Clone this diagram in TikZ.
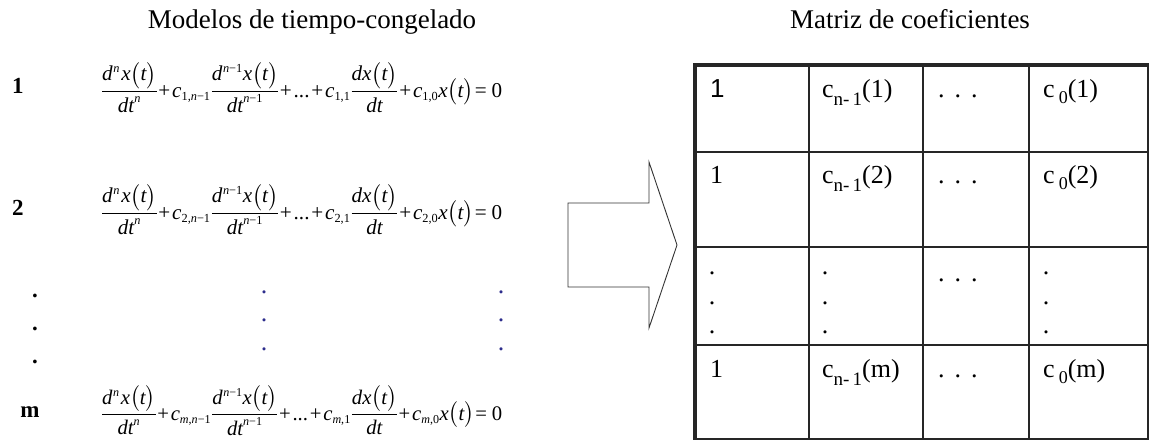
\documentclass[tikz,border=0pt]{standalone}
\usepackage{amsmath}
\usepackage{fontspec}
\setmainfont{Liberation Serif}
\newfontfamily\arialf{Liberation Sans}
\DeclareMathSizes{24}{24}{14}{10}
\definecolor{dotblue}{RGB}{45,45,140}
\newcommand\mi[1]{\mathit{#1}}
\newcommand\tp{\mathbin{\text{+}}}
\newcommand\tmn{\text{\char"2212}}
\newcommand\teq{\mathrel{\text{=}}}
\newcommand\eqrow[1]{\thinmuskip=1mu\medmuskip=1.5mu\thickmuskip=2mu\nulldelimiterspace=0pt$\dfrac{\mi{d}^{\,\mi{n}}\,\mi{x}\bigl(\mi{t}\bigr)}{\mi{dt}^{\mi{n}}}\tp\mi{c}_{#1\text{,}\mi{n}\tmn\text{1}}\,\dfrac{\mi{d}^{\,\mi{n}\tmn\text{1}}\mi{x}\bigl(\mi{t}\bigr)}{\mi{dt}^{\mi{n}\tmn\text{1}}}\tp\text{...}\tp\mi{c}_{#1\text{,1}}\,\dfrac{\mi{dx}\bigl(\mi{t}\bigr)}{\mi{dt}}\tp\mi{c}_{#1\text{,0}}\mi{x}\bigl(\mi{t}\bigr)\!\teq\;\text{0}$}
\newcommand\cnm[1]{c\raisebox{-8pt}{\fontsize{19}{20}\selectfont n-\,1}(#1)}
\newcommand\czero[1]{c\hspace{4pt}\raisebox{-6pt}{\fontsize{18}{20}\selectfont 0}(#1)}
\newcommand\hdotsrow{.\hspace{10pt}.\hspace{10pt}.}
\begin{document}
\begin{tikzpicture}[x=1pt,y=-1pt,
  big/.style={font=\fontsize{26}{30}\selectfont, inner sep=0pt},
  title/.style={font=\fontsize{27}{32}\selectfont, inner sep=0pt, anchor=base},
  cell/.style={big, anchor=base west},
  lab/.style={font=\fontsize{23}{28}\selectfont\bfseries, inner sep=0pt, anchor=base},
  eqn/.style={font=\fontsize{24}{28}\selectfont, inner sep=0pt, anchor=base west},
  vdot/.style={big, anchor=base},
  thin line/.style={line width=1.4pt, black!85},
  thick line/.style={line width=3.5pt, black!85},
  arrowline/.style={line width=0.9pt, black!80, line join=miter}]
\useasboundingbox (0,0) rectangle (1149,440);

% titles
\node[title] (tl) at (312,28) {Modelos de tiempo-congelado};
\node[title] (tr) at (910,28) {Matriz de coeficientes};

% row labels
\node[lab] (l1) at (18,93) {1};
\node[lab] (l2) at (18,215) {2};
\node[lab] (lm) at (30,417) {m};
\node[lab] (d1) at (35,297) {.};
\node[lab] (d2) at (35,330) {.};
\node[lab] (d3) at (35,363) {.};

% equations
\node[eqn] (e1) at (102,97) {\resizebox{400pt}{!}{\eqrow{\text{1}}}};
\node[eqn] (e2) at (102,219) {\resizebox{400pt}{!}{\eqrow{\text{2}}}};
\node[eqn] (em) at (102,420) {\resizebox{400pt}{!}{\eqrow{\mi{m}}}};

% blue dots
\foreach \yy/\nm in {292/a,320/b,349/c}{
  \node[big, text=dotblue, anchor=base] (bl\nm) at (264,\yy+1.5) {.};
  \node[big, text=dotblue, anchor=base] (br\nm) at (501,\yy+1.5) {.};
}

% arrow
\draw[arrowline] (568,203) -- (649,203) -- (649,162) -- (677,245) -- (649,328) -- (649,287) -- (568,287) -- cycle;

% table
\foreach \xx in {809,923,1029}{\draw[thin line] (\xx,65) -- (\xx,439);}
\foreach \yy in {152,247,345}{\draw[thin line] (695,\yy) -- (1148,\yy);}
\draw[thin line] (1148,65) -- (1148,439) -- (695,439);
\draw[thick line] (695,439.7) -- (695,65) -- (1148.7,65);

% row 1
\node[cell, font=\fontsize{26}{30}\arialf] (c11) at (710,97) {1};
\node[cell] (c12) at (822,97) {\cnm{1}};
\node[cell] (c13) at (938,97) {\hdotsrow};
\node[cell] (c14) at (1043,97) {\czero{1}};
% row 2
\node[cell] (c21) at (710,183) {1};
\node[cell] (c22) at (822,183) {\cnm{2}};
\node[cell] (c23) at (938,183) {\hdotsrow};
\node[cell] (c24) at (1043,183) {\czero{2}};
% row 3
\foreach \xx/\cc in {712/a,825/b,1046/d}{
  \foreach \yy/\rr in {273/1,303/2,332/3}{
    \node[vdot] (v\cc\rr) at (\xx,\yy+1.5) {.};
  }
}
\node[cell] (c33) at (938,281) {\hdotsrow};
% row 4
\node[cell] (c41) at (710,377) {1};
\node[cell] (c42) at (822,377) {\cnm{m}};
\node[cell] (c43) at (938,377) {\hdotsrow};
\node[cell] (c44) at (1043,377) {\czero{m}};
\end{tikzpicture}
\end{document}
